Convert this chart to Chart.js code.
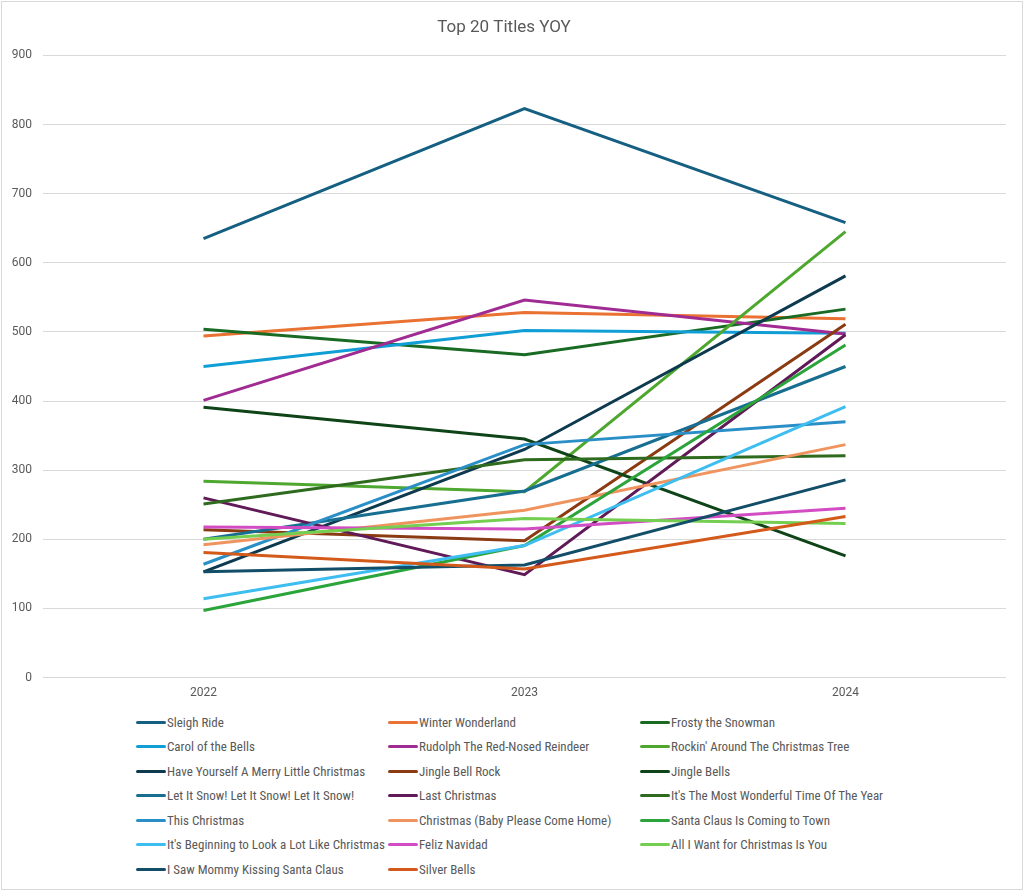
<!DOCTYPE html>
<html>
<head>
<meta charset="utf-8">
<title>Top 20 Titles YOY</title>
<script src="https://cdn.jsdelivr.net/npm/chart.js@4/dist/chart.umd.min.js"></script>
<style>
  body { margin: 0; background: #fff; }
  #wrap {
    position: relative;
    width: 1020px;
    height: 887px;
    border: 1px solid #d9d9d9;
    margin: 1px;
    background: #fff;
  }
  #chartBox { position: absolute; left: 0; top: 0; width: 1020px; height: 706px; }
  #legend {
    position: absolute;
    left: 134px;
    top: 708px;
    display: grid;
    grid-template-columns: 252px 252px 252px;
    grid-auto-rows: 24.5px;
    font-family: 'Liberation Sans Narrow', 'Roboto Condensed', Roboto, sans-serif;
    font-size: 13px;
    color: #595959;
  }
  .item { display: flex; align-items: center; white-space: nowrap; }
  .swatch { width: 30px; height: 3px; border-radius: 2px; margin-right: 1px; }
</style>
</head>
<body>
<div id="wrap">
  <div id="chartBox"><canvas id="lineChart"></canvas></div>
  <div id="legend"></div>
</div>
<script>
var years = ["2022", "2023", "2024"];

var titles = [
    "Sleigh Ride", "Winter Wonderland", "Frosty the Snowman",
    "Carol of the Bells", "Rudolph The Red-Nosed Reindeer", "Rockin' Around The Christmas Tree",
    "Have Yourself A Merry Little Christmas", "Jingle Bell Rock", "Jingle Bells",
    "Let It Snow! Let It Snow! Let It Snow!", "Last Christmas", "It's The Most Wonderful Time Of The Year",
    "This Christmas", "Christmas (Baby Please Come Home)", "Santa Claus Is Coming to Town",
    "It's Beginning to Look a Lot Like Christmas", "Feliz Navidad", "All I Want for Christmas Is You",
    "I Saw Mommy Kissing Santa Claus", "Silver Bells"
];

// one value per title, same order as titles
var values2022 = [635, 494, 504, 450, 401, 284, 153, 214, 391, 200, 260, 251, 164, 192, 97, 114, 218, 200, 153, 181];
var values2023 = [823, 528, 467, 502, 546, 269, 330, 198, 345, 270, 149, 315, 337, 242, 191, 191, 215, 230, 163, 157];
var values2024 = [658, 519, 533, 498, 497, 645, 581, 511, 176, 450, 496, 321, 370, 337, 481, 392, 245, 223, 286, 233];

var yTicks = [0, 100, 200, 300, 400, 500, 600, 700, 800, 900];

var lineColors = [
    "#156082", "#E97132", "#196B24",
    "#0F9ED5", "#A02B93", "#4EA72E",
    "#0D3A4E", "#8B3B12", "#0F4418",
    "#176E90", "#601A58", "#2F6B1E",
    "#2B8FC7", "#F0945F", "#2BA53B",
    "#3EBDF0", "#D24DC4", "#74CE50",
    "#124E68", "#D35A1B"
];

document.addEventListener('DOMContentLoaded', function () {
    var datasets = [];
    for (var i = 0; i < titles.length; i++) {
        datasets.push({
            label: titles[i],
            data: [values2022[i], values2023[i], values2024[i]],
            borderColor: lineColors[i],
            backgroundColor: lineColors[i],
            borderWidth: 3,
            pointRadius: 0,
            tension: 0,
            order: titles.length - i
        });
    }

    var ctx = document.getElementById("lineChart").getContext('2d');
    var chart = new Chart(ctx, {
        type: 'line',
        data: { labels: years, datasets: datasets },
        options: {
            responsive: true,
            maintainAspectRatio: false,
            animation: false,
            layout: { padding: { left: 0, right: 16, top: 0, bottom: 8 } },
            plugins: {
                legend: { display: false },
                tooltip: { enabled: false },
                title: {
                    display: true,
                    text: 'Top 20 Titles YOY',
                    color: '#595959',
                    font: { family: 'Roboto, sans-serif', size: 17, weight: 'normal' },
                    padding: { top: 16, bottom: 17 }
                }
            },
            scales: {
                x: {
                    offset: true,
                    grid: { display: false },
                    border: { display: false },
                    ticks: { color: '#595959', font: { family: 'Roboto, sans-serif', size: 12 }, padding: 0 }
                },
                y: {
                    min: 0,
                    max: 900,
                    afterBuildTicks: function (scale) {
                        scale.ticks = yTicks.map(function (v) { return { value: v }; });
                    },
                    afterFit: function (scale) { scale.width = 41; },
                    grid: { color: '#d9d9d9', drawTicks: false },
                    border: { display: false },
                    ticks: { color: '#595959', font: { family: 'Roboto, sans-serif', size: 12 }, padding: 11 }
                }
            }
        }
    });

    // legend in three fixed columns, like the original
    var legend = document.getElementById("legend");
    chart.data.datasets.forEach(function (ds) {
        var item = document.createElement("div");
        item.className = "item";
        var sw = document.createElement("span");
        sw.className = "swatch";
        sw.style.background = ds.borderColor;
        var txt = document.createElement("span");
        txt.textContent = ds.label;
        item.appendChild(sw);
        item.appendChild(txt);
        legend.appendChild(item);
    });
});
</script>
</body>
</html>
